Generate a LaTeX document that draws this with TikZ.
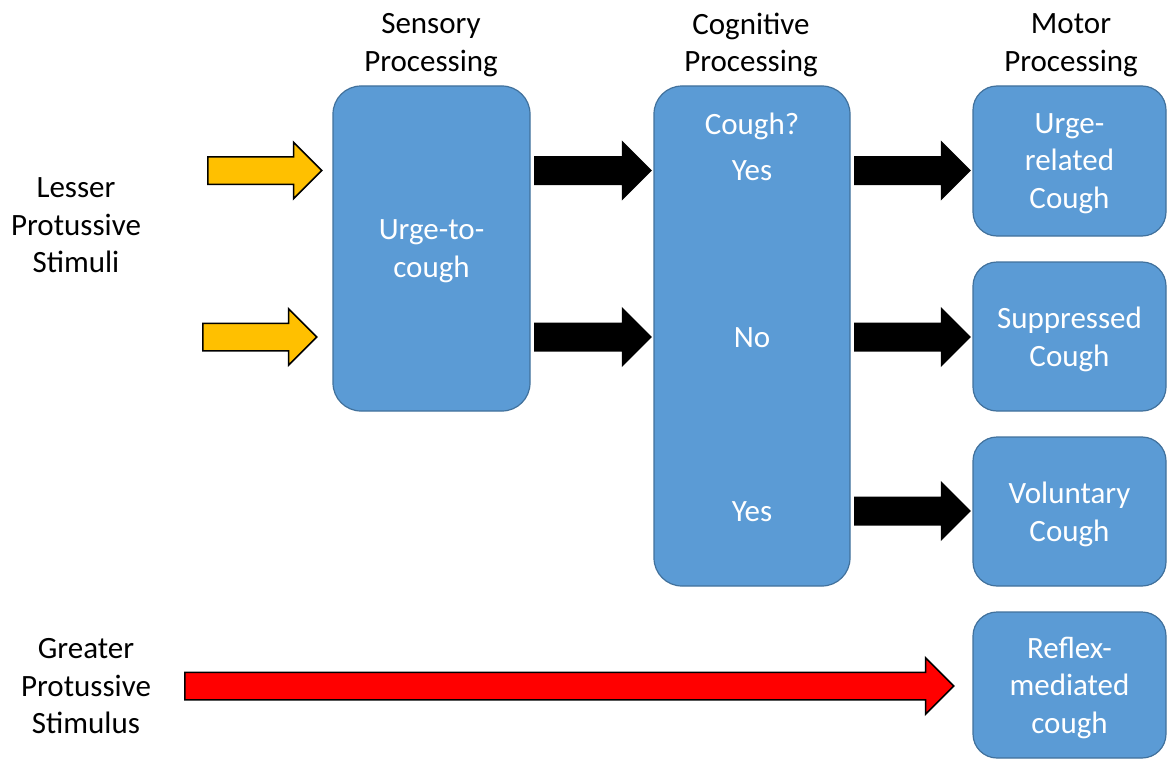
\documentclass[tikz,border=0pt]{standalone}
\usepackage{fontspec}
\setmainfont{Carlito}
\usetikzlibrary{shapes.arrows,positioning}
\definecolor{boxblue}{HTML}{5B9BD5}
\definecolor{boxedge}{HTML}{41719C}
\definecolor{amber}{HTML}{FFC000}
\begin{document}
\begin{tikzpicture}[x=1pt,y=-1pt]
\tikzstyle{every node} = [font=\fontsize{31}{37.5}\selectfont];
\tikzstyle{stage} = [draw=boxedge, line width=1.2pt, fill=boxblue, rounded corners=28pt, text=white, align=center, inner sep=0, text depth=0pt];
\tikzstyle{headtxt} = [align=center, inner sep=0];
\tikzstyle{intxt} = [text=white, anchor=base, inner sep=0];
\tikzstyle{blockarrow} = [single arrow, draw=black, line width=1.5pt, inner sep=0, anchor=tail, text height=13pt, text depth=13pt, single arrow head extend=14.5pt];
\useasboundingbox (0,0) rectangle (1168,760);
% headings
\node[headtxt] (hsens) at (431,45) {Sensory\\Processing};
\node[headtxt] (hcog) at (751,45) {Cognitive\\Processing};
\node[headtxt] (hmot) at (1071,45) {Motor\\Processing};
\node[headtxt] (lesser) at (76,225.5) {Lesser\\Protussive\\Stimuli};
\node[headtxt] (greater) at (86,686.5) {Greater\\Protussive\\Stimulus};
% stages
\node[stage, minimum width=197pt, minimum height=325pt] (sens) at (431.5,248.5) {Urge-to-\\cough};
\node[stage, minimum width=196pt, minimum height=500pt] (cog) at (752,336) {};
\node[intxt] (ask) at (752,134) {Cough?};
\node[intxt] (yes1) at (752,180) {Yes};
\node[intxt] (no) at (752,347) {No};
\node[intxt] (yes2) at (752,521) {Yes};
\node[stage, rounded corners=24pt, minimum width=193pt, minimum height=150pt] (urge) at (1069.5,161) {Urge-\\related\\Cough};
\node[stage, rounded corners=24pt, minimum width=193pt, minimum height=149pt] (supp) at (1069.5,336.5) {Suppressed\\Cough};
\node[stage, rounded corners=24pt, minimum width=193pt, minimum height=149pt] (vol) at (1069.5,511.5) {Voluntary\\Cough};
\node[stage, rounded corners=24pt, minimum width=193pt, minimum height=146pt] (reflex) at (1069.5,685) {Reflex-\\mediated\\cough};
% arrows
\node[blockarrow, fill=amber, minimum height=114pt] (in1) at (207,170.5) {};
\node[blockarrow, fill=amber, minimum height=114pt] (in2) at (202,337) {};
\node[blockarrow, fill=black, minimum height=116pt] (s1) at (534,170.5) {};
\node[blockarrow, fill=black, minimum height=116pt] (s2) at (534,337) {};
\node[blockarrow, fill=black, minimum height=115pt] (c1) at (854,170.5) {};
\node[blockarrow, fill=black, minimum height=115pt] (c2) at (854,337) {};
\node[blockarrow, fill=black, minimum height=115pt] (c3) at (854,511) {};
\node[blockarrow, fill=red, minimum height=769pt] (direct) at (184,686) {};
\end{tikzpicture}
\end{document}
